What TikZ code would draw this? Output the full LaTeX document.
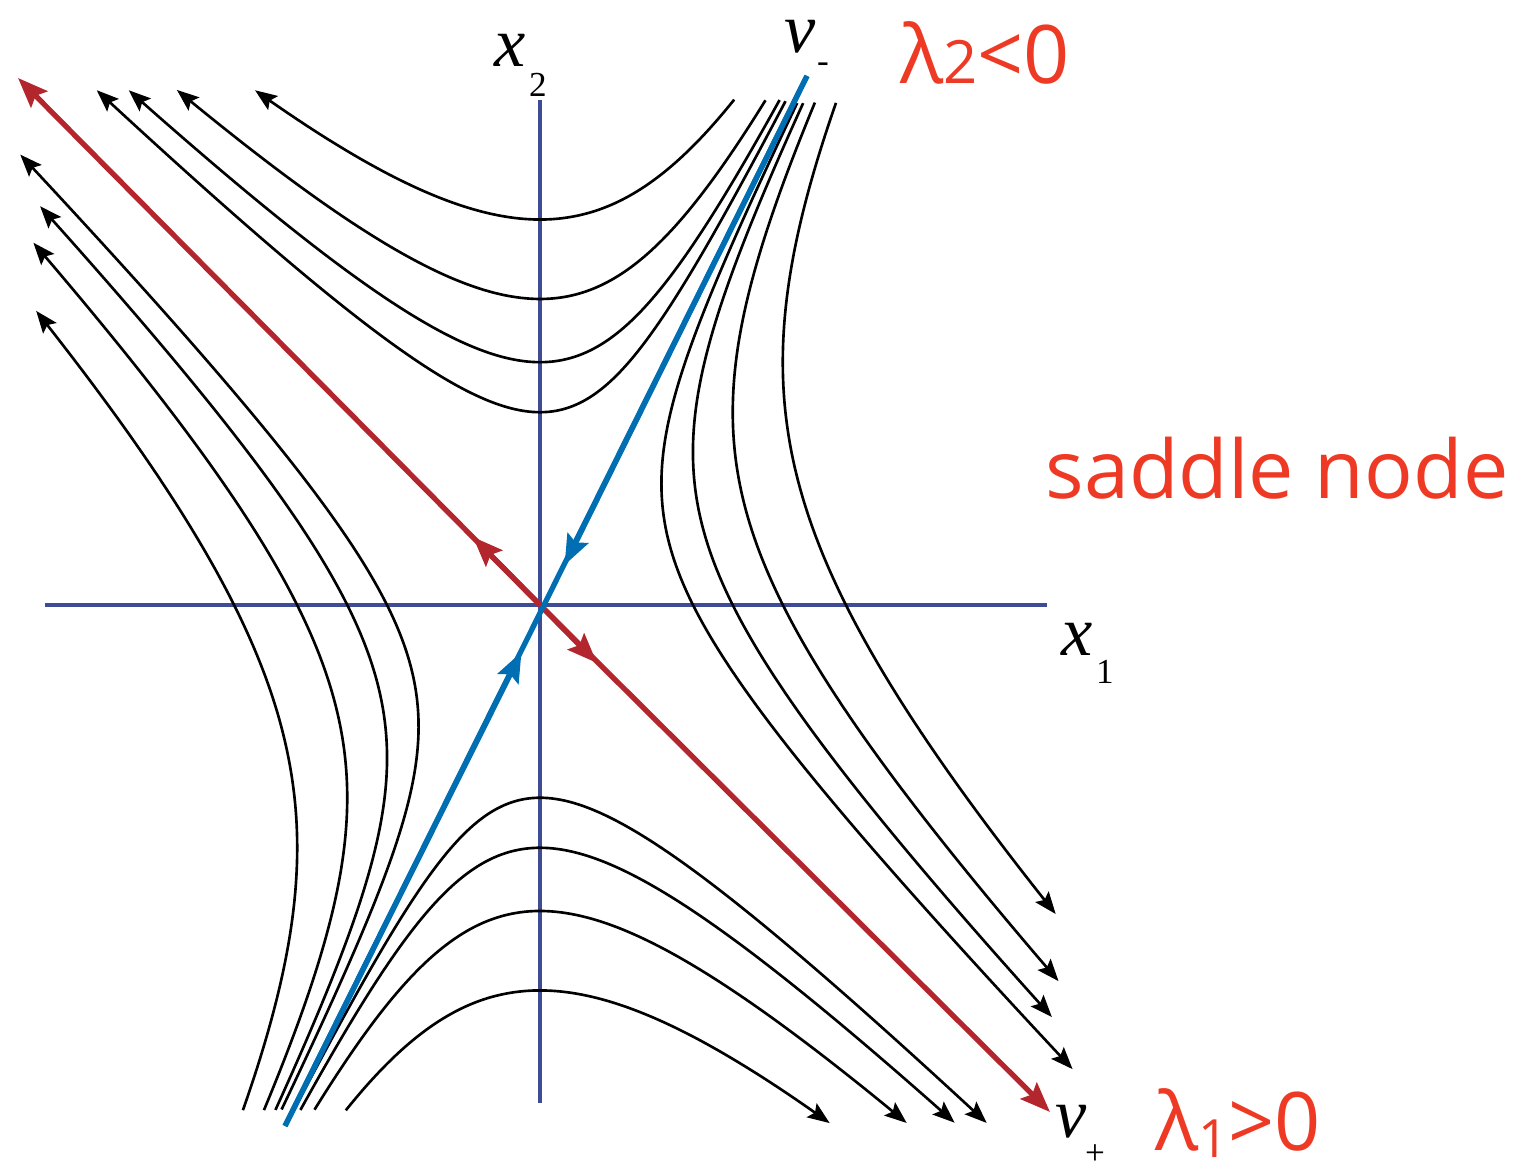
\documentclass[tikz,border=0pt]{standalone}
\usepackage{fontspec}
\setmainfont{Liberation Serif}
\newfontfamily\handfont{Open Sans}
\usetikzlibrary{arrows.meta,positioning}
\definecolor{EigRed}{RGB}{180,38,45}
\definecolor{EigBlue}{RGB}{0,110,178}
\definecolor{AxisBlue}{RGB}{62,76,150}
\definecolor{NoteRed}{RGB}{238,58,36}

\begin{document}
\begin{tikzpicture}[
  axis/.style={draw=AxisBlue,line width=0.95pt},
  traj/.style={draw=black,line width=0.75pt,smooth,samples=60,
    -{Stealth[length=2.2mm,width=1.7mm,inset=0.4mm]}},
  redline/.style={draw=EigRed,line width=1.5pt},
  blueline/.style={draw=EigBlue,line width=1.5pt},
  eigtip/.style={-{Stealth[length=3mm,width=2.3mm,inset=0.5mm]}},
  lbl/.style={font=\fontsize{20}{20}\selectfont\itshape,inner sep=0pt},
  sublbl/.style={font=\fontsize{10}{10}\selectfont,inner sep=0pt},
  note/.style={text=NoteRed,font=\handfont\fontsize{23}{23}\selectfont,inner sep=0pt}]
\useasboundingbox (-5.40,-5.68) rectangle (9.95,6.05);

\coordinate (O) at (0,0);
\coordinate (x1L) at (-4.95,0);
\coordinate (x1R) at (5.07,0);
\coordinate (x2B) at (0,-4.98);
\coordinate (x2T) at (0,5.05);
\draw[axis] (x1L) -- (x1R);
\draw[axis] (x2B) -- (x2T);

% top family
\foreach \r/\ts/\te in {0.515/-3.158/1.542, 0.728/-2.453/1.495,
                        1.030/-1.720/1.421, 1.456/-0.942/1.286}
  \draw[traj] plot[domain=\ts:\te]
    ({-exp(\x)+\r*exp(-\x/2)},{exp(\x)+2*\r*exp(-\x/2)});
% left family
\foreach \r/\ts/\te in {0.515/-3.194/1.6034, 0.728/-2.519/1.5397,
                        1.030/-1.855/1.5237, 1.456/-1.216/1.4683}
  \draw[traj] plot[domain=\ts:\te]
    ({-exp(\x)-\r*exp(-\x/2)},{exp(\x)-2*\r*exp(-\x/2)});
% right family
\foreach \r/\ts/\te in {0.515/-3.184/1.6296, 0.728/-2.507/1.5659,
                        1.030/-1.845/1.5508, 1.456/-1.2056/1.4976}
  \draw[traj] plot[domain=\ts:\te]
    ({exp(\x)+\r*exp(-\x/2)},{-exp(\x)+2*\r*exp(-\x/2)});
% bottom family
\foreach \r/\ts/\te in {0.515/-3.158/1.5487, 0.728/-2.453/1.5025,
                        1.030/-1.720/1.4284, 1.456/-0.942/1.2970}
  \draw[traj] plot[domain=\ts:\te]
    ({exp(\x)-\r*exp(-\x/2)},{-exp(\x)-2*\r*exp(-\x/2)});

\coordinate (redUL) at (-5.22,5.27);
\coordinate (redLR) at (5.10,-5.07);
\coordinate (redA) at (-0.67,0.68);
\coordinate (redB) at (0.57,-0.58);
\draw[redline,eigtip] (O) -- (redUL);
\draw[redline,eigtip] (O) -- (redLR);
\draw[redline,eigtip] (O) -- (redA);
\draw[redline,eigtip] (O) -- (redB);

\coordinate (blueT) at (2.67,5.29);
\coordinate (blueB) at (-2.55,-5.21);
\coordinate (blueA) at (0.246,0.40);
\coordinate (blueC) at (-0.185,-0.47);
\draw[blueline] (blueB) -- (blueT);
\draw[blueline,eigtip] (blueT) -- (blueA);
\draw[blueline,eigtip] (blueB) -- (blueC);

\node[lbl] (x1lbl) at (5.37,-0.34) {x};
\node[sublbl] (x1sub) at (5.65,-0.67) {1};
\node[lbl] (x2lbl) at (-0.30,5.55) {x};
\node[sublbl] (x2sub) at (-0.02,5.20) {2};
\node[lbl] (vmlbl) at (2.60,5.68) {v};
\node[sublbl] (vmsub) at (2.83,5.37) {-};
\node[lbl] (vplbl) at (5.31,-5.17) {v};
\node[sublbl] (vpsub) at (5.55,-5.50) {+};

\node[note] (lamtwo) at (4.45,5.52) {λ{\fontsize{17}{17}\selectfont 2}<0};
\node[note] (saddle) at (7.37,1.37) {saddle node};
\node[note] (lamone) at (6.98,-5.18) {λ\raisebox{-0.08em}{\fontsize{15}{15}\selectfont 1}>0};
\end{tikzpicture}
\end{document}
